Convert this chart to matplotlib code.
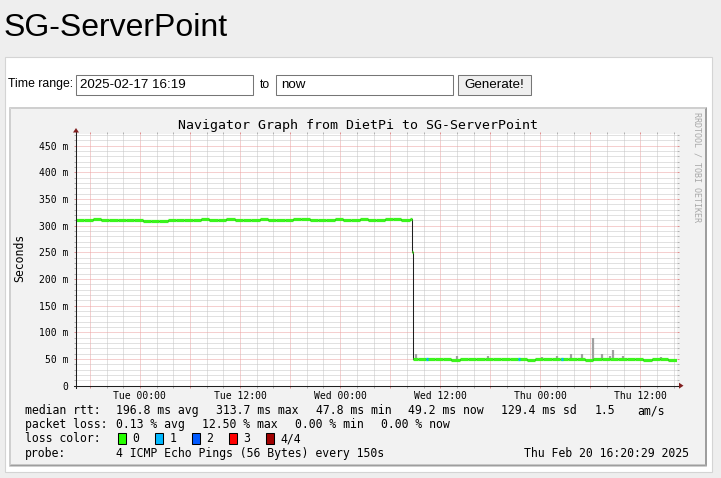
import matplotlib
matplotlib.use('Agg')
import matplotlib.pyplot as plt
import matplotlib.dates as mdates
import matplotlib.transforms as mtransforms
from matplotlib.patches import Rectangle, Polygon
from matplotlib.ticker import MultipleLocator, FuncFormatter
from datetime import datetime, timedelta

W, H = 721, 478

## page / graph texts
page_title = 'SG-ServerPoint'
range_from = '2025-02-17 16:19'
range_to = 'now'
graph_title = 'Navigator Graph from DietPi to SG-ServerPoint'
watermark = 'RRDTOOL / TOBI OETIKER'
start = datetime(2025, 2, 17, 16, 20, 29)
end = datetime(2025, 2, 20, 16, 20, 29)

## median rtt (ms), each sample starts at med_hours[i] (hours after start)
med_hours = list(range(0, 41)) + [40.25, 40.35] + list(range(41, 72))
med_ms = [311, 311, 312, 311, 311, 311, 310, 311, 309, 308,
          309, 310, 311, 311, 311, 312, 311, 311, 312, 311,
          311, 311, 312, 311, 311, 311, 312, 312, 311, 311,
          311, 312, 311, 311, 312, 311, 311, 312, 312, 311,
          312,
          251, 51,
          50, 51, 50, 50, 49, 50, 51, 50, 50, 50,
          51, 50, 50, 49, 50, 50, 51, 50, 50, 50,
          49, 50, 50, 51, 50, 50, 50, 49, 50, 50,
          49]

## smoke spikes (max ping rtt, ms)
spike_hours = [40.7, 45.7, 49.4, 55.9, 57.6, 59.3, 60.6, 62.0, 63.0, 64.0, 64.4, 65.6, 70.1]
spike_ms = [59, 56, 55, 54, 55, 59, 59, 90, 59, 55, 67, 55, 54]
spike_base = 50

## samples with 1/4 packet loss
loss_hours = [41.9, 53.0, 58.1]
loss_ms = [50, 50, 50]

## legend
rtt_items = ['196.8 ms avg', '313.7 ms max', '47.8 ms min', '49.2 ms now', '129.4 ms sd', '1.5', 'am/s']
rtt_x = [116.5, 216, 316, 408.5, 501, 595, 637]
loss_items = ['0.13 % avg', '12.50 % max', '0.00 % min', '0.00 % now']
loss_x = [116.5, 202.5, 295, 381]
loss_labels = ['0', '1', '2', '3', '4/4']
loss_colors = ['#26ff00', '#00b8ff', '#0059ff', '#ff0000', '#a00000']
probe_text = '4 ICMP Echo Pings (56 Bytes) every 150s'
stamp_text = 'Thu Feb 20 16:20:29 2025'

MONO = 'DejaVu Sans Mono'
SANS = 'Liberation Sans'

fig = plt.figure(figsize=(W / 100, H / 100), dpi=100, facecolor='#eeeeee')
# pixel coords, y from top
PX = mtransforms.Affine2D().scale(1 / W, -1 / H).translate(0, 1) + fig.transFigure


def rect(x0, y0, x1, y1, fc, ec='none', lw=0.0, z=0):
    fig.add_artist(Rectangle((x0, y0), x1 - x0, y1 - y0, facecolor=fc, edgecolor=ec,
                             linewidth=lw, transform=PX, zorder=z))


def poly(pts, fc, z=1):
    fig.add_artist(Polygon(pts, closed=True, facecolor=fc, edgecolor='none', transform=PX, zorder=z))


def txt(x, y, s, **kw):
    kw.setdefault('family', MONO)
    kw.setdefault('size', 8.3)
    kw.setdefault('va', 'center')
    fig.text(x, y, s, transform=PX, **kw)


## web page part
txt(3.5, 36, page_title, family=SANS, size=23, va='baseline', color='#000000')
rect(4.5, 56.5, 711.5, 472.5, 'white', '#d4d4d4', 0.8)
txt(8.5, 84.5, 'Time range:', family=SANS, size=8.8)
rect(76, 74.5, 252.5, 94.5, 'white', '#767676', 0.75, z=1)
txt(80.5, 84.5, range_from, family=SANS, size=9.6, zorder=2)
txt(259.5, 84.5, 'to', family=SANS, size=8.8)
rect(276, 74.5, 453, 94.5, 'white', '#767676', 0.75, z=1)
txt(281, 84.5, range_to, family=SANS, size=9.6, zorder=2)
rect(457.5, 74.5, 531, 94.5, '#efefef', '#767676', 0.75, z=1)
txt(494.3, 84.5, 'Generate!', family=SANS, size=9.6, ha='center', zorder=2)

## rrdtool image frame
gx0, gy0, gx1, gy1 = 9, 107, 707, 466.5
rect(gx0, gy0, gx1, gy1, '#f2f2f2', z=1)
poly([(gx0, gy0), (gx1, gy0), (gx1 - 2, gy0 + 2), (gx0 + 2, gy0 + 2)], '#cfcfcf', z=2)
poly([(gx0, gy0), (gx0 + 2, gy0 + 2), (gx0 + 2, gy1 - 2), (gx0, gy1)], '#cfcfcf', z=2)
poly([(gx0, gy1), (gx1, gy1), (gx1 - 2, gy1 - 2), (gx0 + 2, gy1 - 2)], '#9e9e9e', z=2)
poly([(gx1, gy0), (gx1, gy1), (gx1 - 2, gy1 - 2), (gx1 - 2, gy0 + 2)], '#9e9e9e', z=2)

txt((gx0 + gx1) / 2, 126, graph_title, size=9.5, ha='center', zorder=3)
txt(697, 167, watermark, size=6, ha='center', rotation=-90, color='#a8a8a8', zorder=3)
txt(20, 258, 'Seconds', size=8.3, ha='center', rotation=90, zorder=3)

## plot canvas
px0, px1, py0, py1 = 76, 676.7, 134.3, 385.7
ax = fig.add_axes([px0 / W, 1 - py1 / H, (px1 - px0) / W, (py1 - py0) / H], zorder=3)
ax.set_facecolor('white')
for s in ax.spines.values():
    s.set_visible(False)

t_edges = [mdates.date2num(start + timedelta(hours=h)) for h in med_hours + [72]]
ax.stairs(med_ms, t_edges, baseline=None, color='#1f1f1f', lw=0.75, zorder=3)
spike_t = [mdates.date2num(start + timedelta(hours=h)) for h in spike_hours]
ax.vlines(spike_t, spike_base, spike_ms, color='#a0a0a0', lw=1.6, zorder=2)
ax.hlines(med_ms, t_edges[:-1], t_edges[1:], color='#3cf51c', lw=2.3, zorder=4)
loss_t0 = [mdates.date2num(start + timedelta(hours=h)) for h in loss_hours]
loss_t1 = [mdates.date2num(start + timedelta(hours=h + 0.25)) for h in loss_hours]
ax.hlines(loss_ms, loss_t0, loss_t1, color=loss_colors[1], lw=2.3, zorder=5)

ax.set_xlim(mdates.date2num(start), mdates.date2num(end))
ax.set_ylim(0, 471.5)

ax.xaxis.set_major_locator(mdates.HourLocator(byhour=[0, 6, 12, 18]))
ax.xaxis.set_minor_locator(mdates.HourLocator(byhour=range(0, 24, 2)))


def xlab(x, pos):
    d = mdates.num2date(x)
    return d.strftime('%a %H:%M') if d.hour in (0, 12) else ''


ax.xaxis.set_major_formatter(FuncFormatter(xlab))
ax.yaxis.set_major_locator(MultipleLocator(50))
ax.yaxis.set_minor_locator(MultipleLocator(10))
ax.yaxis.set_major_formatter(FuncFormatter(lambda v, pos: '0' if v == 0 else '%d m' % v))

ax.grid(which='major', color='#eda0a0', lw=0.72, linestyle=(0, (1, 1)), zorder=1)
ax.grid(which='minor', color='#c4c4c4', lw=0.72, linestyle=(0, (1, 1)), zorder=0)
ax.set_axisbelow(True)
ax.tick_params(which='major', direction='out', length=1.6, width=0.72, color='#e08c8c',
               top=True, right=True, labelsize=7, pad=2.2)
ax.tick_params(which='minor', direction='out', length=1.6, width=0.72, color='#b0b0b0',
               top=True, right=True)
ax.tick_params(axis='y', which='major', pad=4.0)
for lab in ax.get_xticklabels() + ax.get_yticklabels():
    lab.set_family(MONO)

## axis lines and arrows
fig.add_artist(plt.Line2D([px0, px0], [py1 + 2, 131], color='#1f1f1f', lw=0.75, transform=PX, zorder=6))
fig.add_artist(plt.Line2D([px0 - 2, 679], [py1, py1], color='#1f1f1f', lw=0.75, transform=PX, zorder=6))
poly([(px0 - 3, 132.5), (px0 + 3, 132.5), (px0, 128)], '#801f1f', z=7)
poly([(679, py1 - 3), (679, py1 + 3), (683.5, py1)], '#801f1f', z=7)

## legend
txt(25, 411, 'median rtt:', zorder=3)
for s, x in zip(rtt_items, rtt_x):
    txt(x, 411, s, zorder=3)
txt(25, 425, 'packet loss:', zorder=3)
for s, x in zip(loss_items, loss_x):
    txt(x, 425, s, zorder=3)
txt(25, 439, 'loss color:', zorder=3)
for i, (lab, c) in enumerate(zip(loss_labels, loss_colors)):
    bx = 117.5 + 37.1 * i
    rect(bx, 433, bx + 8, 444, c, '#000000', 0.75, z=3)
    txt(bx + 14.8, 439, lab, zorder=3)
txt(25, 453.5, 'probe:', zorder=3)
txt(116.5, 453.5, probe_text, zorder=3)
txt(688.5, 453.5, stamp_text, ha='right', zorder=3)

fig.savefig('out.png', dpi=100, facecolor=fig.get_facecolor())
